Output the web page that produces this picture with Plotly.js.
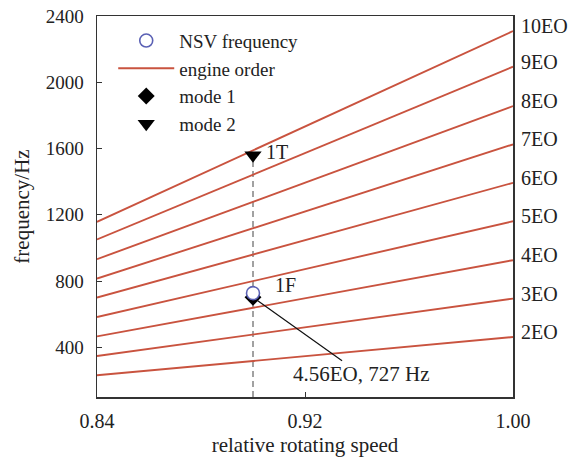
<!DOCTYPE html>
<html>
<head>
<meta charset="utf-8">
<script src="https://cdn.plot.ly/plotly-3.0.1.min.js"></script>
<style>html,body{margin:0;padding:0;background:#fff;}#chart{width:579px;height:459px;}</style>
</head>
<body>
<div id="chart"></div>
<script>
// Data
var speedRange = [0.84, 1.00];                 // relative rotating speed at line ends
var engineOrders = [2, 3, 4, 5, 6, 7, 8, 9, 10];
var eoLabels = ["2EO", "3EO", "4EO", "5EO", "6EO", "7EO", "8EO", "9EO", "10EO"];
var freqAtStart = [231, 347, 466, 583, 700, 815, 932, 1051, 1157]; // Hz at 0.84
var freqAtEnd   = [462, 694, 926, 1161, 1393, 1625, 1856, 2094, 2309]; // Hz at 1.00
var nsvSpeed = [0.9];
var nsvFreq = [727];
var mode1Freq = [702];
var mode2Freq = [1560];
var yMin = 100;
var annText = "4.56EO, 727 Hz";

var serif = "Liberation Serif, Times New Roman, serif";
var red = "#c9533f";
var txt = "#222";
var traces = [];

// dashed vertical line
traces.push({x: [nsvSpeed[0], nsvSpeed[0]], y: [yMin, mode2Freq[0]], mode: "lines",
  line: {color: "#8a8a8a", width: 1.6, dash: "6px,4px"}, showlegend: false, hoverinfo: "skip"});

for (var i = 0; i < engineOrders.length; i++) {
  traces.push({x: speedRange, y: [freqAtStart[i], freqAtEnd[i]], mode: "lines",
    line: {color: red, width: 1.9}, name: "engine order", legendgroup: "eo",
    showlegend: i === 0, legendrank: 2});
}
traces.push({x: nsvSpeed, y: mode1Freq, mode: "markers", name: "mode 1", legendrank: 3,
  marker: {symbol: "diamond", size: 13, color: "#000"}});
traces.push({x: nsvSpeed, y: mode2Freq, mode: "markers", name: "mode 2", legendrank: 4,
  marker: {symbol: "triangle-down", size: 15, color: "#000"}});
traces.push({x: nsvSpeed, y: nsvFreq, mode: "markers", name: "NSV frequency", legendrank: 1,
  marker: {symbol: "circle", size: 13, color: "#fff", line: {color: "#5a60b4", width: 1.6}}});

var annotations = [];
for (var j = 0; j < engineOrders.length; j++) {
  annotations.push({x: speedRange[1], y: freqAtEnd[j], xref: "x", yref: "y", text: eoLabels[j],
    showarrow: false, xanchor: "left", yanchor: "middle", xshift: 6, yshift: 5,
    font: {family: serif, size: 20, color: txt}});
}
annotations.push({x: nsvSpeed[0], y: mode2Freq[0], xref: "x", yref: "y", text: "1T", showarrow: false,
  xanchor: "left", yanchor: "middle", xshift: 11, yshift: 3, font: {family: serif, size: 20, color: txt}});
annotations.push({x: nsvSpeed[0], y: nsvFreq[0], xref: "x", yref: "y", text: "1F", showarrow: false,
  xanchor: "left", yanchor: "middle", xshift: 20, yshift: 8, font: {family: serif, size: 20, color: txt}});
annotations.push({x: nsvSpeed[0], y: mode1Freq[0], xref: "x", yref: "y", text: annText, showarrow: true,
  arrowhead: 0, arrowwidth: 1.2, arrowcolor: "#111", ax: 108, ay: 77, standoff: 5,
  font: {family: serif, size: 21, color: txt}});

var layout = {
  width: 579, height: 459,
  margin: {l: 97, r: 66, t: 16, b: 62},
  paper_bgcolor: "#fff", plot_bgcolor: "#fff",
  font: {family: serif, size: 19, color: txt},
  showlegend: true,
  legend: {x: 0.039, y: 0.985, xanchor: "left", yanchor: "top", bgcolor: "rgba(0,0,0,0)",
    font: {family: serif, size: 19, color: txt}, itemwidth: 56, tracegroupgap: 0},
  xaxis: {range: [0.84, 1.00], tickvals: [0.84, 0.92, 1.00], ticktext: ["0.84", "0.92", "1.00"],
    ticks: "inside", ticklen: 5, tickcolor: "#333", showgrid: false, zeroline: false,
    showline: true, linecolor: "#333", linewidth: 1.5, mirror: true, ticklabelstandoff: 5,
    tickfont: {family: serif, size: 20, color: txt},
    title: {text: "relative rotating speed", font: {family: serif, size: 21, color: txt}, standoff: 7}},
  yaxis: {range: [yMin, 2400], tickvals: [400, 800, 1200, 1600, 2000, 2400],
    ticks: "inside", ticklen: 5, tickcolor: "#333", showgrid: false, zeroline: false,
    showline: true, linecolor: "#333", linewidth: 1.5, mirror: true, ticklabelstandoff: 8,
    tickfont: {family: serif, size: 19, color: txt},
    title: {text: "frequency/Hz", font: {family: serif, size: 21, color: txt}, standoff: 10}},
  annotations: annotations
};

Plotly.newPlot("chart", traces, layout, {displayModeBar: false, staticPlot: true});
</script>
</body>
</html>
